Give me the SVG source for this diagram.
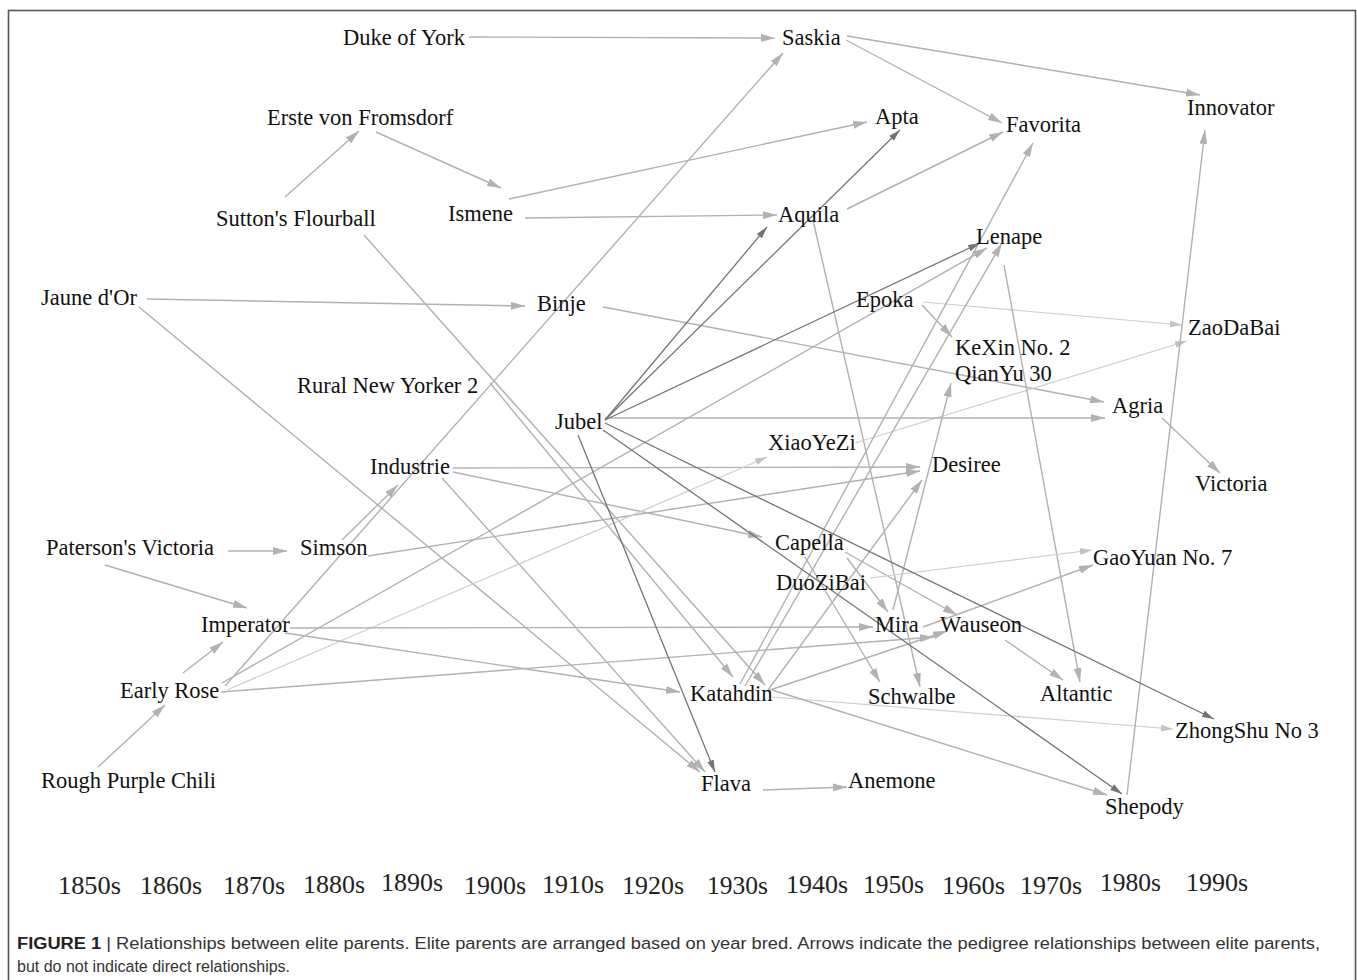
<svg xmlns="http://www.w3.org/2000/svg" width="1357" height="980" viewBox="0 0 1357 980">
<style>
.n{font-family:"Liberation Serif","Times New Roman",serif;font-size:22.5px;fill:#111}
.y{font-family:"Liberation Serif","Times New Roman",serif;font-size:26px;fill:#222}
.c{font-family:"Liberation Sans",Arial,sans-serif;font-size:16px;fill:#333}
.l{stroke:#b2b0b2;stroke-width:1.4;fill:none;marker-end:url(#al)}
.v{stroke:#cfcdcf;stroke-width:1.2;fill:none;marker-end:url(#av)}
.d{stroke:#747474;stroke-width:1.3;fill:none;marker-end:url(#ad)}
</style>
<defs>
<marker id="al" viewBox="0 0 14 8" refX="14" refY="4" markerWidth="14" markerHeight="8" markerUnits="userSpaceOnUse" orient="auto"><path d="M0,0L14,4L0,8z" fill="#b2b0b2"/></marker>
<marker id="av" viewBox="0 0 14 8" refX="14" refY="4" markerWidth="12" markerHeight="7" markerUnits="userSpaceOnUse" orient="auto"><path d="M0,0L14,4L0,8z" fill="#c4c2c4"/></marker>
<marker id="ad" viewBox="0 0 14 8" refX="14" refY="4" markerWidth="12" markerHeight="7" markerUnits="userSpaceOnUse" orient="auto"><path d="M0,0L14,4L0,8z" fill="#747474"/></marker>
</defs>
<rect x="8.5" y="10.5" width="1347" height="990" fill="#fff" stroke="#555" stroke-width="1.6"/>
<g id="connectors">
<line class="l" x1="469" y1="37" x2="775" y2="38"/>
<line class="l" x1="847" y1="36" x2="1200" y2="95"/>
<line class="l" x1="846" y1="40" x2="1002" y2="123"/>
<line class="l" x1="376" y1="132" x2="501" y2="188"/>
<line class="l" x1="285" y1="197" x2="359" y2="131"/>
<line class="l" x1="509" y1="199" x2="867" y2="122"/>
<line class="l" x1="525" y1="218" x2="777" y2="215"/>
<line class="l" x1="847" y1="209" x2="1003" y2="132"/>
<line class="l" x1="813" y1="220" x2="920" y2="687"/>
<line class="l" x1="147" y1="299" x2="525" y2="306"/>
<line class="l" x1="139" y1="307" x2="700" y2="772"/>
<line class="l" x1="603" y1="307" x2="1104" y2="402"/>
<line class="l" x1="364" y1="235" x2="765" y2="685"/>
<line class="l" x1="490" y1="383" x2="733" y2="677"/>
<line class="l" x1="442" y1="478" x2="705" y2="772"/>
<line class="l" x1="453" y1="468" x2="920" y2="467"/>
<line class="l" x1="453" y1="472" x2="762" y2="537"/>
<line class="l" x1="342" y1="540" x2="398" y2="485"/>
<line class="l" x1="368" y1="556" x2="920" y2="471"/>
<line class="l" x1="228" y1="551" x2="287" y2="551"/>
<line class="l" x1="105" y1="565" x2="247" y2="608"/>
<line class="l" x1="98" y1="767" x2="165" y2="705"/>
<line class="l" x1="183" y1="673" x2="223" y2="642"/>
<line class="l" x1="225" y1="686" x2="783" y2="53"/>
<line class="l" x1="222" y1="683" x2="987" y2="248"/>
<line class="v" x1="227" y1="690" x2="767" y2="457"/>
<line class="l" x1="221" y1="692" x2="934" y2="637"/>
<line class="l" x1="290" y1="628" x2="873" y2="627"/>
<line class="l" x1="285" y1="633" x2="680" y2="692"/>
<line class="v" x1="855" y1="443" x2="1187" y2="341"/>
<line class="v" x1="923" y1="302" x2="1182" y2="325"/>
<line class="l" x1="922" y1="305" x2="952" y2="337"/>
<line class="l" x1="1004" y1="265" x2="1080" y2="682"/>
<line class="l" x1="1005" y1="640" x2="1063" y2="680"/>
<line class="l" x1="740" y1="684" x2="1033" y2="143"/>
<line class="l" x1="745" y1="686" x2="1002" y2="243"/>
<line class="l" x1="768" y1="690" x2="922" y2="480"/>
<line class="l" x1="770" y1="690" x2="947" y2="631"/>
<line class="v" x1="772" y1="697" x2="1173" y2="729"/>
<line class="l" x1="772" y1="690" x2="1107" y2="795"/>
<line class="l" x1="847" y1="558" x2="888" y2="612"/>
<line class="l" x1="805" y1="557" x2="880" y2="682"/>
<line class="l" x1="845" y1="552" x2="957" y2="615"/>
<line class="v" x1="870" y1="578" x2="1092" y2="550"/>
<line class="l" x1="923" y1="627" x2="1093" y2="565"/>
<line class="l" x1="893" y1="610" x2="951" y2="383"/>
<line class="l" x1="1127" y1="795" x2="1205" y2="130"/>
<line class="l" x1="1162" y1="418" x2="1220" y2="473"/>
<line class="l" x1="763" y1="790" x2="847" y2="787"/>
<line class="l" x1="605" y1="418" x2="1105" y2="418"/>
<line class="d" x1="605" y1="420" x2="900" y2="130"/>
<line class="d" x1="605" y1="420" x2="767" y2="227"/>
<line class="d" x1="605" y1="420" x2="980" y2="243"/>
<line class="d" x1="578" y1="435" x2="715" y2="772"/>
<line class="d" x1="603" y1="430" x2="1122" y2="794"/>
<line class="d" x1="605" y1="423" x2="1214" y2="719"/>
</g>
<g id="n-duke"><text class="n" x="343" y="45">Duke of York</text></g>
<g id="n-saskia"><text class="n" x="782" y="45">Saskia</text></g>
<g id="n-innovator"><text class="n" x="1187" y="115">Innovator</text></g>
<g id="n-erste"><text class="n" x="267" y="125">Erste von Fromsdorf</text></g>
<g id="n-apta"><text class="n" x="875" y="124">Apta</text></g>
<g id="n-favorita"><text class="n" x="1006" y="132">Favorita</text></g>
<g id="n-sutton"><text class="n" x="216" y="226">Sutton's Flourball</text></g>
<g id="n-ismene"><text class="n" x="448" y="221">Ismene</text></g>
<g id="n-aquila"><text class="n" x="778" y="222">Aquila</text></g>
<g id="n-lenape"><text class="n" x="976" y="244">Lenape</text></g>
<g id="n-jaune"><text class="n" x="41" y="305">Jaune d'Or</text></g>
<g id="n-binje"><text class="n" x="537" y="311">Binje</text></g>
<g id="n-epoka"><text class="n" x="856" y="307">Epoka</text></g>
<g id="n-zaodabai"><text class="n" x="1188" y="335">ZaoDaBai</text></g>
<g id="n-kexin"><text class="n" x="955" y="355">KeXin No. 2</text></g>
<g id="n-qianyu"><text class="n" x="955" y="381">QianYu 30</text></g>
<g id="n-rny"><text class="n" x="297" y="393">Rural New Yorker 2</text></g>
<g id="n-agria"><text class="n" x="1112" y="413">Agria</text></g>
<g id="n-jubel"><text class="n" x="555" y="429">Jubel</text></g>
<g id="n-xiaoyezi"><text class="n" x="768" y="450">XiaoYeZi</text></g>
<g id="n-industrie"><text class="n" x="370" y="474">Industrie</text></g>
<g id="n-desiree"><text class="n" x="932" y="472">Desiree</text></g>
<g id="n-victoria"><text class="n" x="1195" y="491">Victoria</text></g>
<g id="n-paterson"><text class="n" x="46" y="555">Paterson's Victoria</text></g>
<g id="n-simson"><text class="n" x="300" y="555">Simson</text></g>
<g id="n-capella"><text class="n" x="775" y="550">Capella</text></g>
<g id="n-gaoyuan"><text class="n" x="1093" y="565">GaoYuan No. 7</text></g>
<g id="n-duozibai"><text class="n" x="776" y="590">DuoZiBai</text></g>
<g id="n-imperator"><text class="n" x="201" y="632">Imperator</text></g>
<g id="n-mira"><text class="n" x="875" y="632">Mira</text></g>
<g id="n-wauseon"><text class="n" x="940" y="632">Wauseon</text></g>
<g id="n-earlyrose"><text class="n" x="120" y="698">Early Rose</text></g>
<g id="n-katahdin"><text class="n" x="690" y="701">Katahdin</text></g>
<g id="n-schwalbe"><text class="n" x="868" y="704">Schwalbe</text></g>
<g id="n-altantic"><text class="n" x="1040" y="701">Altantic</text></g>
<g id="n-zhongshu"><text class="n" x="1175" y="738">ZhongShu No 3</text></g>
<g id="n-rough"><text class="n" x="41" y="788">Rough Purple Chili</text></g>
<g id="n-flava"><text class="n" x="701" y="791">Flava</text></g>
<g id="n-anemone"><text class="n" x="848" y="788">Anemone</text></g>
<g id="n-shepody"><text class="n" x="1105" y="814">Shepody</text></g>
<g id="years">
<text class="y" x="58" y="894" textLength="63" lengthAdjust="spacingAndGlyphs">1850s</text>
<text class="y" x="140" y="894" textLength="62" lengthAdjust="spacingAndGlyphs">1860s</text>
<text class="y" x="223" y="894" textLength="62" lengthAdjust="spacingAndGlyphs">1870s</text>
<text class="y" x="303" y="893" textLength="62" lengthAdjust="spacingAndGlyphs">1880s</text>
<text class="y" x="381" y="891" textLength="62" lengthAdjust="spacingAndGlyphs">1890s</text>
<text class="y" x="464" y="894" textLength="62" lengthAdjust="spacingAndGlyphs">1900s</text>
<text class="y" x="542" y="893" textLength="62" lengthAdjust="spacingAndGlyphs">1910s</text>
<text class="y" x="622" y="894" textLength="62" lengthAdjust="spacingAndGlyphs">1920s</text>
<text class="y" x="707" y="894" textLength="61" lengthAdjust="spacingAndGlyphs">1930s</text>
<text class="y" x="786" y="893" textLength="62" lengthAdjust="spacingAndGlyphs">1940s</text>
<text class="y" x="863" y="893" textLength="61" lengthAdjust="spacingAndGlyphs">1950s</text>
<text class="y" x="942" y="894" textLength="63" lengthAdjust="spacingAndGlyphs">1960s</text>
<text class="y" x="1020" y="894" textLength="62" lengthAdjust="spacingAndGlyphs">1970s</text>
<text class="y" x="1100" y="891" textLength="61" lengthAdjust="spacingAndGlyphs">1980s</text>
<text class="y" x="1186" y="891" textLength="62" lengthAdjust="spacingAndGlyphs">1990s</text>
</g>
<g id="caption">
<text class="c" x="17" y="949" textLength="1303" lengthAdjust="spacingAndGlyphs"><tspan font-weight="bold" fill="#222">FIGURE 1</tspan> | Relationships between elite parents. Elite parents are arranged based on year bred. Arrows indicate the pedigree relationships between elite parents,</text>
<text class="c" x="17" y="972">but do not indicate direct relationships.</text>
</g>
</svg>
